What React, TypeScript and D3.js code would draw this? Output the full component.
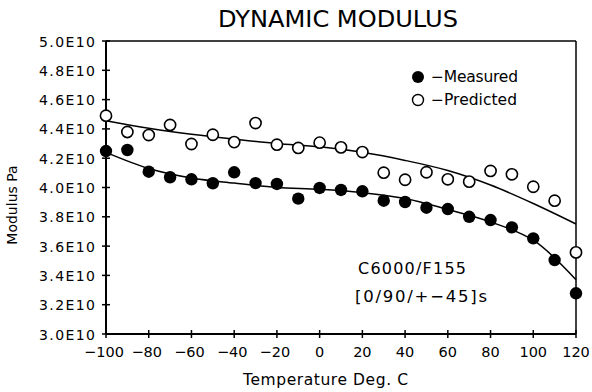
import React from "react";
import * as d3 from "d3";

const temps = [-100, -90, -80, -70, -60, -50, -40, -30, -20, -10, 0, 10, 20, 30, 40, 50, 60, 70, 80, 90, 100, 110, 120];
const measured = [4.249, 4.256, 4.108, 4.07, 4.056, 4.029, 4.104, 4.03, 4.024, 3.924, 3.997, 3.983, 3.974, 3.91, 3.901, 3.862, 3.853, 3.8, 3.778, 3.728, 3.653, 3.505, 3.278];
const predicted = [4.49, 4.379, 4.358, 4.427, 4.297, 4.36, 4.31, 4.44, 4.292, 4.27, 4.306, 4.274, 4.242, 4.101, 4.053, 4.104, 4.056, 4.04, 4.113, 4.09, 4.005, 3.91, 3.557];
const fitTemps = [-100, -80, -60, -40, -20, 0, 20, 40, 60, 80, 100, 120];
const measuredFit = [4.24, 4.13, 4.065, 4.03, 4.0, 3.988, 3.965, 3.925, 3.85, 3.765, 3.64, 3.37];
const predictedFit = [4.456, 4.404, 4.363, 4.33, 4.3, 4.278, 4.24, 4.185, 4.116, 4.017, 3.891, 3.751];
const xTicks = [-100, -80, -60, -40, -20, 0, 20, 40, 60, 80, 100, 120];
const yTicks = [3.0, 3.2, 3.4, 3.6, 3.8, 4.0, 4.2, 4.4, 4.6, 4.8, 5.0];

const W = 592, H = 392;
const L = 106, R = 576, T = 41, B = 334;
const font = "'DejaVu Sans', 'Liberation Sans', sans-serif";

export default function App() {
  const x = d3.scaleLinear().domain([-100, 120]).range([L, R]);
  const y = d3.scaleLinear().domain([3.0, 5.0]).range([B, T]);
  const line = d3.line<number>()
    .x((_, i) => x(fitTemps[i]))
    .y((d) => y(d))
    .curve(d3.curveCatmullRom);
  const fmtX = (v: number) => (v < 0 ? "\u2212" + Math.abs(v) : String(v));
  return (
    <svg width={W} height={H} style={{ position: "absolute", left: 0, top: 0, background: "#fff" }}>
      <rect width={W} height={H} fill="#fff" />
      <text x={218} y={27} fontFamily={font} fontSize={22.5} textLength={240} lengthAdjust="spacingAndGlyphs" fill="#000">DYNAMIC MODULUS</text>
      {/* frame */}
      <line x1={L} y1={T} x2={R} y2={T} stroke="#000" strokeWidth={1.5} />
      <line x1={R} y1={T} x2={R} y2={B} stroke="#000" strokeWidth={1.5} />
      <line x1={L} y1={T} x2={L} y2={B} stroke="#000" strokeWidth={2} />
      <line x1={L} y1={B} x2={R} y2={B} stroke="#000" strokeWidth={2} />
      {yTicks.map((v) => (
        <g key={"y" + v}>
          <line x1={L - 4} x2={L + 4} y1={y(v)} y2={y(v)} stroke="#000" strokeWidth={1.5} />
          <text x={39} y={y(v) + 5.5} fontFamily={font} fontSize={14} textLength={56} lengthAdjust="spacing" fill="#000">{v.toFixed(1) + "E10"}</text>
        </g>
      ))}
      {xTicks.map((v) => (
        <g key={"x" + v}>
          <line x1={x(v)} x2={x(v)} y1={B - 4} y2={B + 4} stroke="#000" strokeWidth={1.5} />
          <text x={x(v) - (v < 0 ? 2 : 0)} y={B + 23} textAnchor="middle" fontFamily={font} fontSize={14.5} fill="#000">{fmtX(v)}</text>
        </g>
      ))}
      <text x={243} y={385} fontFamily={font} fontSize={15.5} textLength={165} lengthAdjust="spacing" fill="#000">Temperature Deg. C</text>
      <text transform={`translate(17,205) rotate(-90)`} textAnchor="middle" fontFamily={font} fontSize={14} fill="#000">Modulus Pa</text>
      <path d={line(predictedFit) || ""} fill="none" stroke="#000" strokeWidth={1.5} />
      <path d={line(measuredFit) || ""} fill="none" stroke="#000" strokeWidth={1.5} />
      {temps.map((t, i) => (
        <circle key={"p" + t} cx={x(t)} cy={y(predicted[i])} r={5.6} fill="#fff" stroke="#000" strokeWidth={1.6} />
      ))}
      {temps.map((t, i) => (
        <circle key={"m" + t} cx={x(t)} cy={y(measured[i])} r={6.2} fill="#000" />
      ))}
      {/* legend */}
      <circle cx={418} cy={77} r={6} fill="#000" />
      <text x={431} y={82} fontFamily={font} fontSize={15.5} textLength={87} lengthAdjust="spacing" fill="#000">{"\u2212Measured"}</text>
      <circle cx={418} cy={100} r={5.5} fill="#fff" stroke="#000" strokeWidth={1.4} />
      <text x={431} y={105} fontFamily={font} fontSize={15.5} textLength={86} lengthAdjust="spacing" fill="#000">{"\u2212Predicted"}</text>
      <text x={358} y={274} fontFamily={font} fontSize={16} textLength={108} lengthAdjust="spacing" fill="#000">C6000/F155</text>
      <text x={355} y={302} fontFamily={font} fontSize={16.5} textLength={132} lengthAdjust="spacing" fill="#000">{"[0/90/+\u221245]s"}</text>
    </svg>
  );
}
